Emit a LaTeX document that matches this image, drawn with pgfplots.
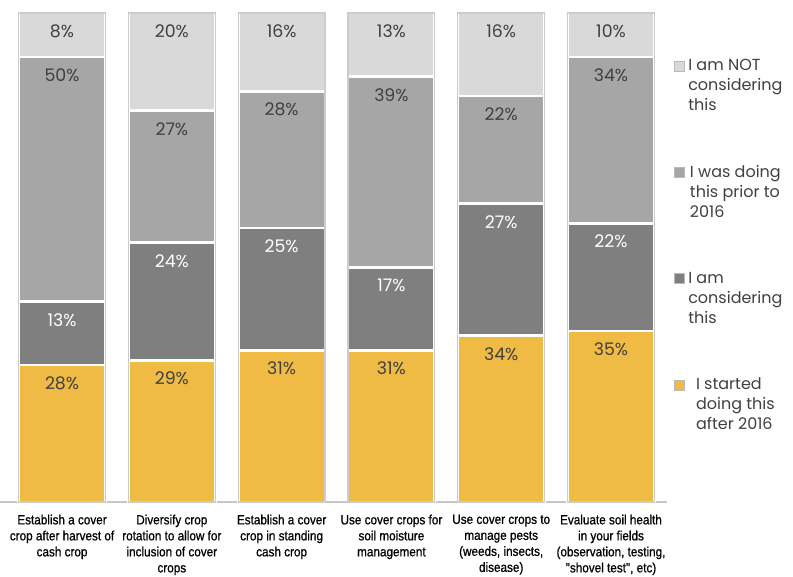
\documentclass[border=0pt]{standalone}
\usepackage{fontspec}
\setmainfont{Poppins}
\newfontfamily\narrowfont[FakeStretch=0.88, FakeBold=0.8]{Liberation Sans}
\usepackage{pgfplots}
\usepackage{pgfplotstable}
\pgfplotsset{compat=1.18}

\definecolor{cNot}{HTML}{D9D9D9}
\definecolor{cPrior}{HTML}{A6A6A6}
\definecolor{cCons}{HTML}{7F7F7F}
\definecolor{cStart}{HTML}{F0BB45}
\definecolor{txt}{HTML}{404040}

% h = drawn height (top segment fills the column to 100), lab = printed value
\pgfplotstableread{
x h lab
0 28 28
1 29 29
2 31 31
3 31 31
4 34 34
5 35 35
}\started
\pgfplotstableread{
x h lab
0 13 13
1 24 24
2 25 25
3 17 17
4 27 27
5 22 22
}\considering
\pgfplotstableread{
x h lab
0 50 50
1 27 27
2 28 28
3 39 39
4 22 22
5 34 34
}\prior
\pgfplotstableread{
x h lab
0 9 8
1 20 20
2 16 16
3 13 13
4 17 16
5 9 10
}\notcons

\begin{document}
\begin{tikzpicture}
\useasboundingbox (0,0) rectangle (594.75pt,432.75pt);
\pgfplotsset{base/.style={
    scale only axis,
    width=500.25pt, height=366.75pt,
    at={(0pt,56.25pt)}, anchor=south west,
    xmin=-0.565, xmax=5.51, ymin=0, ymax=100,
    clip=false,
}}
\begin{axis}[
    base,
    ybar stacked,
    bar width=0.79,
    axis y line=none,
    axis x line*=bottom,
    x axis line style={draw=gray!45, line width=1.1pt, -},
    xtick={0,1,2,3,4,5},
    major tick length=0pt,
    xticklabels={
        {Establish a cover\\crop after harvest of\\cash crop},
        {Diversify crop\\rotation to allow for\\inclusion of cover\\crops},
        {Establish a cover\\crop in standing\\cash crop},
        {Use cover crops for\\soil moisture\\management},
        {Use cover crops to\\manage pests\\(weeds, insects,\\disease)},
        {Evaluate soil health\\in your fields\\(observation, testing,\\"shovel test", etc)}},
    xticklabel style={align=center, text=black, yshift=-6pt,
        font=\narrowfont\fontsize{10}{12}\selectfont},
    point meta=explicit symbolic,
    visualization depends on={\thisrow{h} \as \hh},
    nodes near coords={\pgfplotspointmeta\%},
    nodes near coords style={anchor=north, yshift={\hh*1.83375pt-4.5pt},
        font=\fontsize{13}{15}\selectfont, text=txt},
    every axis plot post/.append style={
        legend image code/.code={
            \path (0pt,-19pt) -- (0pt,19pt);
            \draw[##1, draw=gray!55, line width=0.5pt] (0pt,11.25pt) rectangle (7.5pt,18.75pt);}},
    reverse legend,
    legend style={at={(1.009,0.911)}, anchor=north west,
        draw=none, fill=none, inner sep=0pt,
        nodes={inner xsep=0pt}, column sep=2.5pt,
        font=\fontsize{12}{15}\selectfont, text=txt,
        row sep=35.5pt, cells={align=left}},
]
\addplot[fill=cStart, draw=white, line width=2pt] table[x=x, y=h, meta=lab] {\started};
\addplot[fill=cCons, draw=white, line width=2pt,
    nodes near coords style={text=white}] table[x=x, y=h, meta=lab] {\considering};
\addplot[fill=cPrior, draw=white, line width=2pt] table[x=x, y=h, meta=lab] {\prior};
\addplot[fill=cNot, draw=white, line width=2pt] table[x=x, y=h, meta=lab] {\notcons};
\addlegendentry{I started\\doing this\\after 2016}
\addlegendentry{I am\\considering\\this}
\addlegendentry{I was doing\\this prior to\\2016}
\addlegendentry{I am NOT\\considering\\this}
\end{axis}
\begin{axis}[base, hide axis, ybar, bar width=0.79]
\addplot[fill=none, draw=gray!40, line width=0.9pt]
    coordinates {(0,100) (1,100) (2,100) (3,100) (4,100) (5,100)};
\end{axis}
\end{tikzpicture}
\end{document}
